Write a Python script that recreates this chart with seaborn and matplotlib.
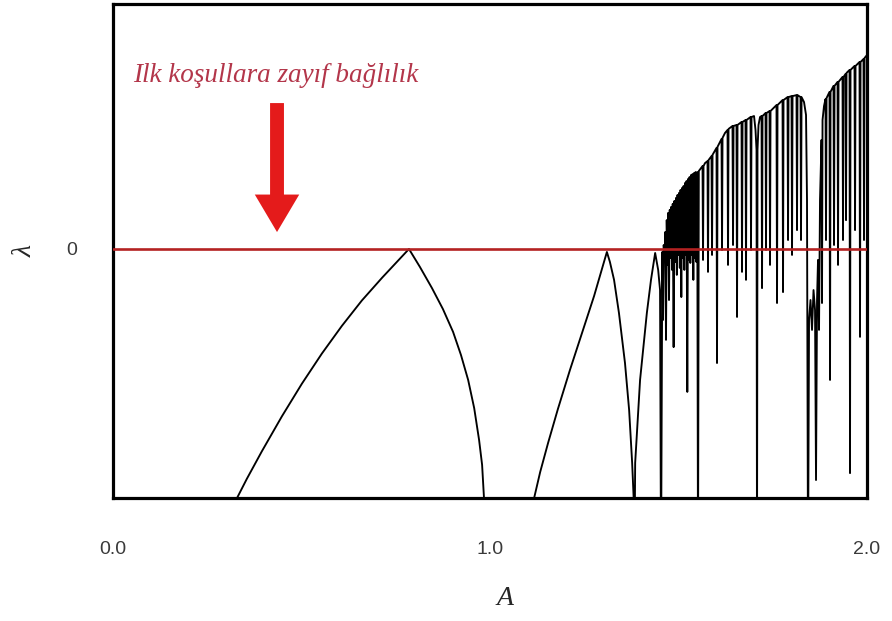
import matplotlib
matplotlib.use("Agg")
import matplotlib.pyplot as plt
import numpy as np
import pandas as pd
import seaborn as sns

# Lyapunov exponent of the quadratic map versus the parameter A
# Periodic regime: arcs touching zero at the period-doubling points
periodic_A = [0.329, 0.355, 0.395, 0.448, 0.501, 0.554, 0.607, 0.660, 0.714, 0.785,
              0.814, 0.846, 0.875, 0.902, 0.923, 0.942, 0.958, 0.971, 0.979, 0.984,
              1.050,
              1.117, 1.133, 1.154, 1.180, 1.212, 1.244, 1.276, 1.310,
              1.318, 1.329, 1.342, 1.358, 1.369, 1.377, 1.381, 1.383,
              1.385, 1.398, 1.416, 1.427, 1.438, 1.446, 1.451, 1.4536]
periodic_lam = [-1.0, -0.923, -0.812, -0.672, -0.541, -0.420, -0.309, -0.207, -0.115, 0.0,
                -0.072, -0.157, -0.241, -0.333, -0.426, -0.526, -0.639, -0.767, -0.867, -1.0,
                -1.6,
                -1.0, -0.896, -0.779, -0.643, -0.486, -0.337, -0.189, -0.012,
                -0.052, -0.124, -0.257, -0.458, -0.647, -0.859, -1.0, -1.3,
                -0.859, -0.526, -0.257, -0.124, -0.016, -0.084, -0.165, -1.3]

# Chaotic regime: rising envelope cut by periodic windows
chaos_A = [1.4570, 1.4589, 1.4607, 1.4629, 1.4647, 1.4668, 1.4687, 1.4708, 1.4727,
           1.4748, 1.4767, 1.4788, 1.4806, 1.4828, 1.4846, 1.4870, 1.4891, 1.4912,
           1.4934, 1.4955, 1.4973, 1.4995, 1.5013, 1.5034, 1.5053, 1.5074, 1.5093,
           1.5114, 1.5133, 1.5154, 1.5172, 1.5194, 1.5212, 1.5233, 1.5252, 1.5273,
           1.5292, 1.5313, 1.5332, 1.5353, 1.5371, 1.5393, 1.5411, 1.5432, 1.5451,
           1.5472, 1.5496, 1.5517, 1.5538, 1.5637, 1.5650, 1.5663, 1.5703, 1.5769,
           1.5782, 1.5796, 1.5875, 1.5889, 1.5902, 1.6008, 1.6021, 1.6034, 1.6141,
           1.6154, 1.6167, 1.6233, 1.6300, 1.6313, 1.6326, 1.6432, 1.6446, 1.6459,
           1.6538, 1.6552, 1.6565, 1.6671, 1.6684, 1.6698, 1.6777, 1.6790, 1.6804,
           1.6910, 1.6923, 1.6936, 1.7003, 1.7042, 1.7069, 1.7082, 1.7095, 1.7122,
           1.7162, 1.7202, 1.7215, 1.7228, 1.7308, 1.7321, 1.7334, 1.7414, 1.7427,
           1.7440, 1.7599, 1.7613, 1.7626, 1.7759, 1.7772, 1.7785, 1.7891, 1.7905,
           1.7918, 1.7997, 1.8011, 1.8024, 1.8130, 1.8143, 1.8156, 1.8236, 1.8249,
           1.8263, 1.8329, 1.8382, 1.8408, 1.8435, 1.8462, 1.8501, 1.8541, 1.8581,
           1.8621, 1.8647, 1.8674, 1.8700, 1.8727, 1.8753, 1.8793, 1.8806, 1.8820,
           1.8859, 1.8899, 1.8912, 1.8926, 1.9005, 1.9019, 1.9032, 1.9111, 1.9125,
           1.9138, 1.9218, 1.9231, 1.9244, 1.9350, 1.9363, 1.9377, 1.9430, 1.9443,
           1.9456, 1.9536, 1.9549, 1.9562, 1.9668, 1.9682, 1.9695, 1.9801, 1.9814,
           1.9828, 1.9907, 1.9920, 1.9934, 2.0000]
chaos_lam = [-0.012, -0.285, 0.016, -0.044, 0.068, -0.365, 0.116, -0.064, 0.145,
             -0.205, 0.157, -0.036, 0.169, -0.084, 0.181, -0.394, 0.193, -0.052,
             0.205, -0.104, 0.217, -0.024, 0.225, -0.076, 0.237, -0.193, 0.245,
             -0.036, 0.253, -0.084, 0.265, -0.024, 0.273, -0.574, 0.281, -0.044,
             0.289, -0.056, 0.297, -0.024, 0.301, -0.124, 0.305, -0.036, 0.309,
             -0.052, 0.309, -1.3, 0.313, 0.333, -0.044, 0.333, 0.345, 0.353,
             -0.092, 0.357, 0.373, -0.024, 0.378, 0.406, -0.458, 0.410, 0.442,
             -0.004, 0.446, 0.466, 0.478, -0.064, 0.482, 0.494, 0.016, 0.494,
             0.498, -0.273, 0.498, 0.510, -0.092, 0.510, 0.518, -0.124, 0.518,
             0.530, -0.004, 0.530, 0.534, 0.478, 0.398, -1.3, 0.398, 0.498,
             0.530, 0.534, -0.157, 0.534, 0.546, -0.004, 0.546, 0.554, -0.064,
             0.554, 0.578, -0.217, 0.578, 0.598, -0.173, 0.598, 0.610, 0.036,
             0.610, 0.614, -0.024, 0.614, 0.618, 0.076, 0.618, 0.610, 0.036,
             0.610, 0.590, 0.538, 0.197, -1.3, -0.285, -0.205, -0.325, -0.165,
             -0.245, -0.928, -0.205, -0.044, -0.325, 0.197, 0.438, -0.217, 0.518,
             0.574, 0.602, 0.036, 0.606, 0.631, -0.526, 0.631, 0.655, 0.016,
             0.655, 0.671, -0.064, 0.671, 0.691, 0.036, 0.691, 0.703, 0.116,
             0.707, 0.719, -0.900, 0.719, 0.735, 0.076, 0.735, 0.751, -0.353,
             0.751, 0.763, 0.036, 0.767, 0.779]

x_ticks = [0.0, 1.0, 2.0]
x_tick_labels = ["0.0", "1.0", "2.0"]
y_ticks = [0.0]
y_tick_labels = ["0"]
note_text = "Ilk koşullara zayıf bağlılık"

df = pd.DataFrame({"A": periodic_A + chaos_A, "lam": periodic_lam + chaos_lam})

sns.set_style("white")
plt.rcParams["font.family"] = ["Liberation Sans", "DejaVu Sans"]

fig = plt.figure(figsize=(8.92, 6.21), dpi=100)
ax = fig.add_axes([0.1267, 0.1981, 0.8453, 0.7955])

sns.lineplot(data=df, x="A", y="lam", estimator=None, sort=False,
             color="black", lw=1.35, ax=ax, zorder=2)
ax.axhline(0.0, color="#b42222", lw=1.9, zorder=3)

ax.set_xlim(0, 2)
ax.set_ylim(-1.0, 0.984)
ax.set_xticks(x_ticks)
ax.set_xticklabels(x_tick_labels)
ax.set_yticks(y_ticks)
ax.set_yticklabels(y_tick_labels)
ax.tick_params(axis="x", length=0, pad=31, labelsize=14, labelcolor="#3a3a3a")
ax.tick_params(axis="y", length=0, pad=26, labelsize=14, labelcolor="#3a3a3a")

for s in ax.spines.values():
    s.set_visible(True)
    s.set_color("black")
    s.set_linewidth(2.3)

serif_it = dict(family=["Liberation Serif", "DejaVu Serif"], style="italic")
ax.set_xlabel("A", fontsize=20, **serif_it)
ax.set_ylabel("λ", fontsize=20, **serif_it)
ax.xaxis.set_label_coords(0.52, -0.178)
ax.yaxis.set_label_coords(-0.100, 0.5)

ax.text(0.053, 0.695, note_text, color="#b3364a", fontsize=19.5,
        ha="left", va="center", **serif_it)
ax.annotate("", xy=(0.435, 0.068), xytext=(0.435, 0.586),
            arrowprops=dict(facecolor="#e41b1b", edgecolor="none", width=10,
                            headwidth=32, headlength=27, shrink=0))

fig.savefig("out.png", dpi=100)
